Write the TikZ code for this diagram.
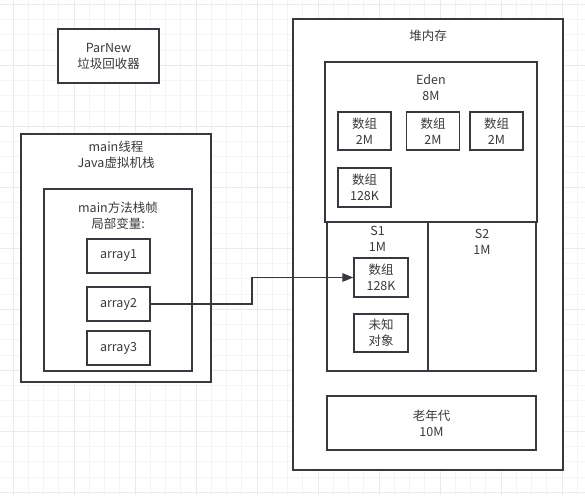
\documentclass[tikz,border=0pt]{standalone}
\usepackage{fontspec}
\setmainfont{Noto Sans CJK SC}
\usetikzlibrary{arrows.meta}
\definecolor{lc}{HTML}{36393D}
\definecolor{tc}{HTML}{3A3A3A}
\definecolor{gminor}{HTML}{F4F4F4}
\definecolor{gmajor}{HTML}{EAEAEA}
\begin{document}
\begin{tikzpicture}[x=1pt,y=-1pt,
  box/.style={draw=lc,line width=1.3pt,fill=white,inner sep=0pt,text=tc,align=center,font=\fontsize{12.5}{16}\selectfont},
  txt/.style={text=tc,align=center,inner sep=0pt,font=\fontsize{12.5}{16}\selectfont},
  arr/.style={draw=lc,line width=1.3pt,-{Triangle[length=11pt,width=8.5pt]}}]
\useasboundingbox (0,0) rectangle (585,495);
\fill[white] (0,0) rectangle (585,495);
% grid
\foreach \i in {0,...,39}{
  \pgfmathsetmacro{\gx}{-2.25+15.25*\i}
  \draw[gminor,line width=1pt] (\gx,0) -- (\gx,495);
}
\foreach \i in {0,...,33}{
  \pgfmathsetmacro{\gy}{4.3+15.25*(\i-0)}
  \draw[gminor,line width=1pt] (0,\gy) -- (585,\gy);
}
\foreach \i in {0,...,9}{
  \pgfmathsetmacro{\gx}{13+61*\i}
  \draw[gmajor,line width=1pt] (\gx,0) -- (\gx,495);
}
\foreach \i in {0,...,8}{
  \pgfmathsetmacro{\gy}{4.3+61*\i}
  \draw[gmajor,line width=1pt] (0,\gy) -- (585,\gy);
}
% ParNew
\node[box,minimum width=101pt,minimum height=54pt] (parnew) at (108.5,56) {ParNew\\垃圾回收器};
% main thread
\node[box,minimum width=190pt,minimum height=248pt] (mainthread) at (116,258) {};
\node[txt] (mainthreadlbl) at (116,155) {main线程\\Java虚拟机栈};
\node[box,minimum width=148pt,minimum height=182pt] (frame) at (118,280) {};
\node[txt] (framelbl) at (118,215.5) {main方法栈帧\\局部变量:};
\node[box,minimum width=63pt,minimum height=34pt] (array1) at (118.5,256) {array1};
\node[box,minimum width=63pt,minimum height=34pt] (array2) at (118.5,304) {array2};
\node[box,minimum width=63pt,minimum height=34pt] (array3) at (118.5,348) {array3};
% heap
\node[box,minimum width=270pt,minimum height=451pt] (heap) at (428,244.5) {};
\node[txt] (heaplbl) at (428,36) {堆内存};
\node[box,minimum width=212pt,minimum height=160pt] (eden) at (431,142) {};
\node[txt] (edenlbl) at (431,88) {Eden\\8M};
\node[box,minimum width=53pt,minimum height=38pt] (e1) at (364.5,131) {数组\\2M};
\node[box,minimum width=53pt,minimum height=38pt] (e2) at (433,131) {数组\\2M};
\node[box,minimum width=53pt,minimum height=38pt] (e3) at (496.5,131) {数组\\2M};
\node[box,minimum width=53pt,minimum height=39pt] (e4) at (364.5,187.5) {数组\\128K};
\node[box,minimum width=101pt,minimum height=149pt] (s1) at (377.5,296.5) {};
\node[txt] (s1lbl) at (377.5,239) {S1\\1M};
\node[box,minimum width=108pt,minimum height=149pt] (s2) at (482,296.5) {};
\node[txt] (s2lbl) at (482,242) {S2\\1M};
\node[box,minimum width=54pt,minimum height=39pt] (s1a) at (381,277.5) {数组\\128K};
\node[box,minimum width=54pt,minimum height=38pt] (s1b) at (381,333) {未知\\对象};
\node[box,minimum width=209pt,minimum height=54pt] (old) at (431.5,423) {老年代\\10M};
% connector
\coordinate (bend) at (252,0);
\draw[arr] (array2.east) -- (array2.east -| bend) |- (s1a.west);
\end{tikzpicture}
\end{document}
